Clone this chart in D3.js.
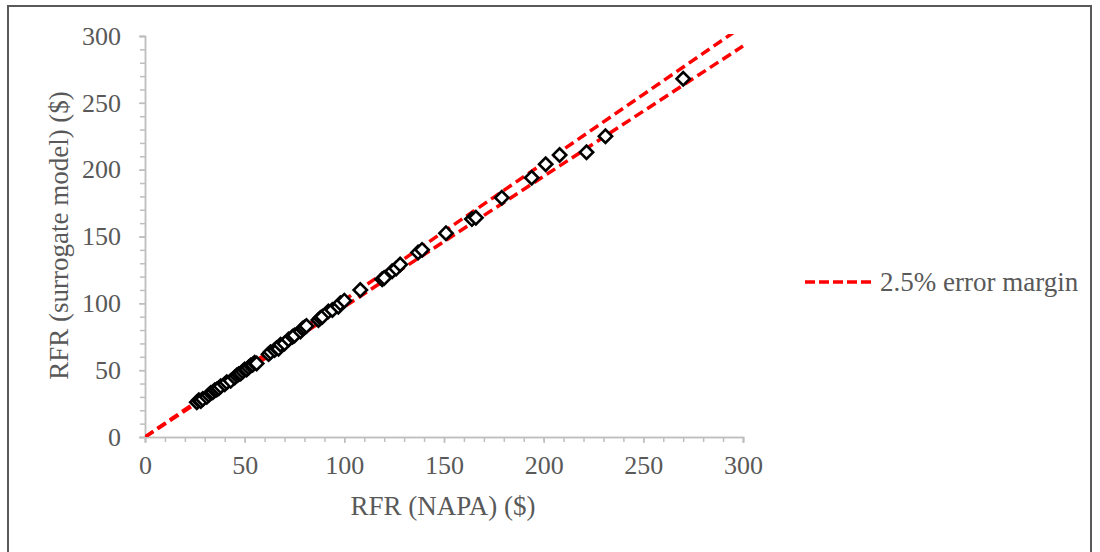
<!DOCTYPE html>
<html>
<head>
<meta charset="utf-8">
<script src="https://cdn.jsdelivr.net/npm/d3@7/dist/d3.min.js"></script>
<style>
  html, body { margin: 0; padding: 0; background: #fff; }
  svg { display: block; }
  text { font-family: "Liberation Serif", "Times New Roman", serif; fill: #595959; }
</style>
</head>
<body>
<svg id="chart" width="1100" height="552"></svg>
<script>
// RFR computed by NAPA (x) vs. RFR predicted by the surrogate model (y), in $
const napaRFR = [
  26, 27, 28, 29, 31, 32, 33, 34, 35, 36, 37, 38, 40, 41, 43, 45, 46, 47, 48, 49,
  50, 51, 52, 53, 54, 55, 56,
  62, 63, 65, 66, 67, 68, 70, 72, 74, 75, 78, 79, 80, 81, 87, 88, 89, 92, 94, 97, 98, 100,
  108, 119, 120, 124, 126, 128, 137, 139, 151, 164, 166, 179, 194, 201, 208, 221.5, 231, 270
];
const surrogateRFR = [
  26, 27.5, 27, 28.5, 30, 31.5, 33, 33.5, 35, 35.5, 36.5, 38, 39.5, 41, 42, 44.5, 46, 47, 47.5, 49,
  50.5, 50.5, 52, 53.5, 54, 55.5, 55,
  62, 63.5, 65, 66.5, 66, 69, 70, 73, 75, 76, 79, 81, 82, 83, 87.5, 89, 90, 94, 95, 97.5, 100, 102,
  110, 118, 119, 124, 126, 129, 138, 140, 152.5, 163, 164, 179, 194, 204, 211, 213, 225, 268
];

// ±2.5 % error margin lines through the origin
const errorMargin = 0.025;
const marginSlopes = [1 + errorMargin, 1 - errorMargin];
const legendLabel = "2.5% error margin";

const xTitle = "RFR (NAPA) ($)";
const yTitle = "RFR (surrogate model) ($)";
const majorTicks = [0, 50, 100, 150, 200, 250, 300];
const minorTicks = d3.range(0, 301, 10);

const svg = d3.select("#chart");
const plot = { left: 145, right: 743, top: 36, bottom: 437 };

const x = d3.scaleLinear().domain([0, 300]).range([plot.left, plot.right]);
const y = d3.scaleLinear().domain([0, 300]).range([plot.bottom, plot.top]);

// outer frame
svg.append("rect")
  .attr("x", 8).attr("y", 6).attr("width", 1083).attr("height", 570)
  .attr("fill", "none").attr("stroke", "#595959").attr("stroke-width", 2);

const axisColor = "#bfbfbf";
const tickFont = 26;
const titleFont = 27;

// x axis: minor ticks, then major ticks with labels
const gx = svg.append("g").attr("transform", `translate(0,${plot.bottom})`);
gx.call(d3.axisBottom(x).tickValues(minorTicks).tickSize(5).tickFormat(""));
const gxMajor = svg.append("g").attr("transform", `translate(0,${plot.bottom})`)
  .call(d3.axisBottom(x).tickValues(majorTicks).tickSize(6).tickPadding(13).tickFormat(d3.format("d")));
[gx, gxMajor].forEach(g => {
  g.selectAll("path.domain").attr("stroke", axisColor).attr("stroke-width", 1.5);
  g.selectAll(".tick line").attr("stroke", axisColor).attr("stroke-width", 1.5);
});
gxMajor.selectAll(".tick text").style("font-size", tickFont + "px").attr("fill", "#595959");

// y axis
const gy = svg.append("g").attr("transform", `translate(${plot.left},0)`);
gy.call(d3.axisLeft(y).tickValues(minorTicks).tickSize(5).tickFormat(""));
const gyMajor = svg.append("g").attr("transform", `translate(${plot.left},0)`)
  .call(d3.axisLeft(y).tickValues(majorTicks).tickSize(6).tickPadding(18).tickFormat(d3.format("d")));
[gy, gyMajor].forEach(g => {
  g.selectAll("path.domain").attr("stroke", axisColor).attr("stroke-width", 1.5);
  g.selectAll(".tick line").attr("stroke", axisColor).attr("stroke-width", 1.5);
});
gyMajor.selectAll(".tick text").style("font-size", tickFont + "px").attr("fill", "#595959");
[gxMajor, gyMajor].forEach(g => g.attr("font-size", null).attr("font-family", null));

// error margin lines, clipped to the plotting area
svg.append("clipPath").attr("id", "plotClip")
  .append("rect")
  .attr("x", plot.left).attr("y", plot.top - 2)
  .attr("width", plot.right - plot.left + 2).attr("height", plot.bottom - plot.top + 2);

const lineGen = d3.line().x(d => x(d[0])).y(d => y(d[1]));
svg.append("g").attr("clip-path", "url(#plotClip)")
  .selectAll("path.margin")
  .data(marginSlopes)
  .join("path")
  .attr("class", "margin")
  .attr("d", s => lineGen([[0, 0], [300, 300 * s]]))
  .attr("fill", "none")
  .attr("stroke", "#ff0000")
  .attr("stroke-width", 3.5)
  .attr("stroke-dasharray", "10,5");

// data markers: hollow diamonds
const points = napaRFR.map((v, i) => [v, surrogateRFR[i]]);
const diamond = d3.symbol().type(d3.symbolSquare).size(88);
svg.append("g")
  .selectAll("path.pt")
  .data(points)
  .join("path")
  .attr("class", "pt")
  .attr("d", diamond)
  .attr("transform", d => `translate(${x(d[0])},${y(d[1])}) rotate(45)`)
  .attr("fill", "#ffffff")
  .attr("stroke", "#000000")
  .attr("stroke-width", 2.6);

// axis titles
svg.append("text")
  .attr("x", (plot.left + plot.right) / 2 - 1)
  .attr("y", 515)
  .attr("text-anchor", "middle")
  .style("font-size", titleFont + "px")
  .text(xTitle);

svg.append("text")
  .attr("transform", `translate(68,${(plot.top + plot.bottom) / 2 - 1}) rotate(-90)`)
  .attr("text-anchor", "middle")
  .style("font-size", titleFont + "px")
  .text(yTitle);

// legend
const legend = svg.append("g").attr("transform", "translate(805,282)");
legend.append("line")
  .attr("x1", 0).attr("x2", 68).attr("y1", 0).attr("y2", 0)
  .attr("stroke", "#ff0000").attr("stroke-width", 3.5)
  .attr("stroke-dasharray", "10,4");
legend.append("text")
  .attr("x", 75).attr("y", 0).attr("dy", "0.35em")
  .style("font-size", titleFont + "px")
  .text(legendLabel);
</script>
</body>
</html>
